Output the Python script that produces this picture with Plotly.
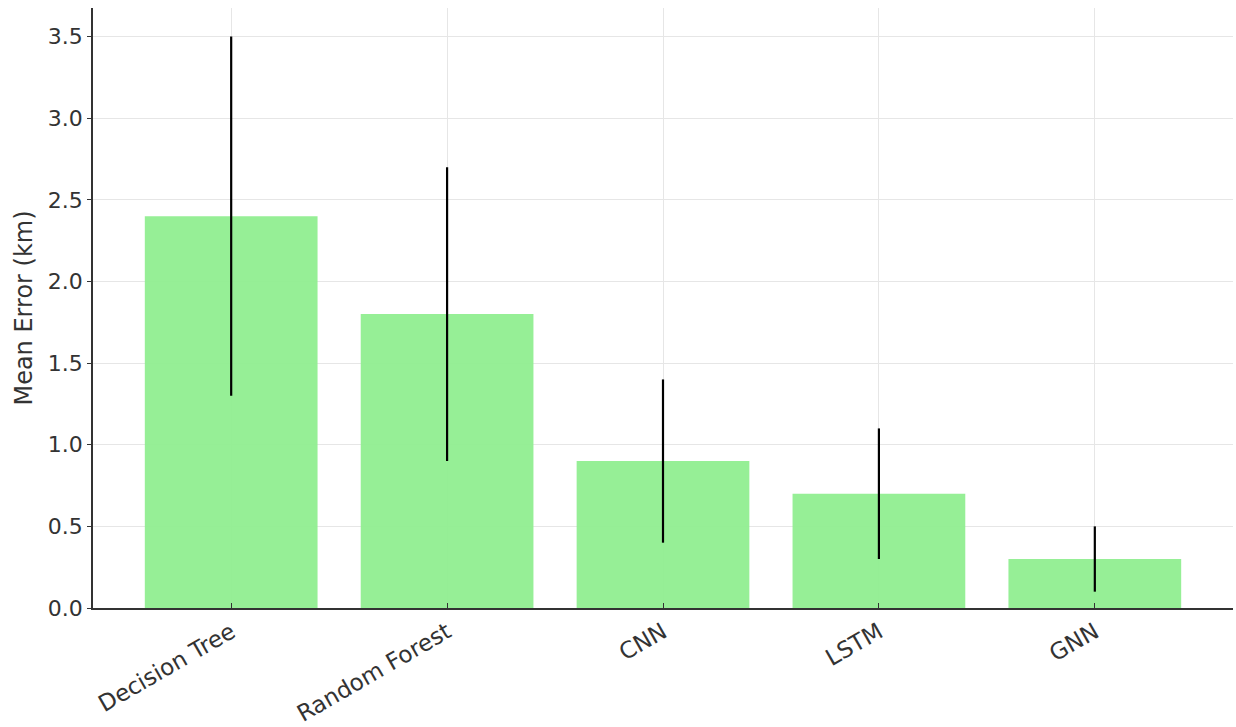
import plotly.graph_objects as go

# Model comparison: mean localisation error with spread
models = ["Decision Tree", "Random Forest", "CNN", "LSTM", "GNN"]
mean_error = [2.4, 1.8, 0.9, 0.7, 0.3]
error_spread = [1.1, 0.9, 0.5, 0.4, 0.2]
y_ticks = [0.0, 0.5, 1.0, 1.5, 2.0, 2.5, 3.0, 3.5]

fig = go.Figure()
fig.add_trace(go.Bar(
    x=list(range(len(models))),
    y=mean_error,
    width=0.8,
    marker=dict(color="rgba(144,238,144,0.95)", line=dict(width=0)),
    error_y=dict(type="data", array=error_spread, visible=True,
                 color="black", thickness=2.2, width=0),
))

font_family = "DejaVu Sans, sans-serif"
fig.update_layout(
    width=1236, height=727,
    margin=dict(l=93, r=3, t=8, b=119),
    plot_bgcolor="white", paper_bgcolor="white",
    showlegend=False,
    font=dict(family=font_family, color="#333333"),
    xaxis=dict(
        tickmode="array",
        tickvals=list(range(len(models))),
        ticktext=models,
        tickangle=-30,
        range=[-0.64, 4.64],
        automargin=False,
        showgrid=True, gridcolor="#e6e6e6", gridwidth=1,
        showline=True, linecolor="#333333", linewidth=1.5,
        ticks="inside", ticklen=5, tickcolor="#333333",
        tickfont=dict(size=23, color="#333333"),
        zeroline=False,
    ),
    yaxis=dict(
        tickmode="array",
        tickvals=y_ticks,
        tickformat=".1f",
        range=[0, 3.675],
        automargin=False,
        showgrid=True, gridcolor="#e6e6e6", gridwidth=1,
        showline=True, linecolor="#333333", linewidth=1.5,
        ticks="outside", ticklen=4, tickcolor="#333333",
        tickfont=dict(size=22, color="#333333"),
        title=dict(text="Mean Error (km)", font=dict(size=24, color="#333333"), standoff=8),
        zeroline=False,
    ),
)

fig.write_html("out.html")
